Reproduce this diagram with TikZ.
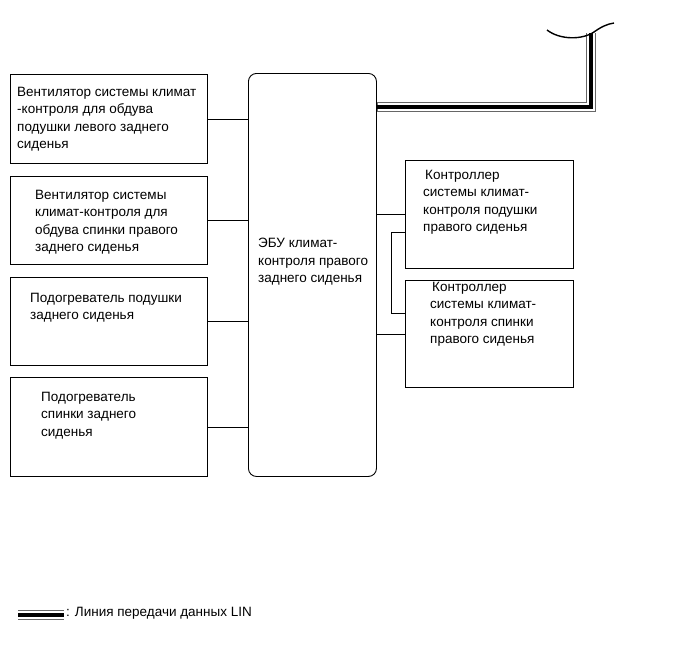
\documentclass[tikz,border=0pt]{standalone}
\usepackage{fontspec}
\setmainfont{Liberation Sans}
\begin{document}
\begin{tikzpicture}[x=1pt,y=-1pt,
  box/.style={draw, line width=0.9pt, inner sep=0pt, anchor=north west},
  txt/.style={anchor=north west, inner sep=0pt, align=left, font=\fontsize{13.5}{17.5}\selectfont},
  wire/.style={line width=0.9pt},
  lingray/.style={draw=black!60, line width=9.5pt},
  linwhite/.style={draw=white, line width=7.5pt},
  linblack/.style={draw=black, line width=3.5pt}
]
\useasboundingbox (0,0) rectangle (689,659);
% left boxes
\node[box, minimum width=197, minimum height=89] (b1) at (10,74) {};
\node[box, minimum width=197, minimum height=88] (b2) at (10,176) {};
\node[box, minimum width=197, minimum height=88] (b3) at (10,277) {};
\node[box, minimum width=197, minimum height=99] (b4) at (10,377) {};
% ECU
\node[box, rounded corners=8pt, minimum width=128, minimum height=403] (ecu) at (248,73) {};
% right boxes
\node[box, minimum width=168, minimum height=108] (r1) at (405,160) {};
\node[box, minimum width=168, minimum height=107] (r2) at (405,280) {};
% texts
\node[txt] (t1) at (17,87) {Вентилятор системы климат\\-контроля для обдува\\подушки левого заднего\\сиденья};
\node[txt] (t2) at (35,190) {Вентилятор системы\\климат-контроля для\\обдува спинки правого\\заднего сиденья};
\node[txt] (t3) at (30,293) {Подогреватель подушки\\заднего сиденья};
\node[txt] (t4) at (41,392) {Подогреватель\\спинки заднего\\сиденья};
\node[txt] (te) at (258,238) {ЭБУ климат-\\контроля правого\\заднего сиденья};
\node[txt] (tr1) at (423,170) {\hspace{2pt}Контроллер\\системы климат-\\контроля подушки\\правого сиденья};
\node[txt] (tr2) at (430,282) {\hspace{2pt}Контроллер\\системы климат-\\контроля спинки\\правого сиденья};
% connectors
\draw[wire] (b1.east) -- (b1.east -| ecu.west);
\draw[wire] (b2.east) -- (b2.east -| ecu.west);
\draw[wire] (b3.east) -- (b3.east -| ecu.west);
\draw[wire] (b4.east) -- (b4.east -| ecu.west);
\draw[wire] (r1.west -| ecu.east) -- (r1.west);
\draw[wire] (r2.west -| ecu.east) -- (r2.west);
\coordinate (k1) at (391,232);
\coordinate (k2) at (391,313);
\draw[wire] (k1 -| r1.west) -- (k1) -- (k2) -- (k2 -| r2.west);
% LIN bus
\coordinate (lstart) at (376,107);
\coordinate (lcorner) at (591,107);
\coordinate (lend) at (591,33);
\path[lingray] (lstart -| ecu.east) -- (lcorner) -- (lend);
\path[linwhite] ([xshift=1pt]lstart -| ecu.east) -- (lcorner) -- (lend);
\path[linblack] (lstart -| ecu.east) -- (lcorner) -- (lend);
\coordinate (w1) at (547,30);
\coordinate (w2) at (614,23);
\draw[line width=1.4pt] (w1) .. controls (560,40) and (582,40) .. (594,32) .. controls (601,27) and (607,24) .. (w2);
% legend
\coordinate (g1) at (18,615);
\coordinate (g2) at (64,615);
\path[lingray] (g1) -- (g2);
\path[linwhite] (g1) -- (g2);
\path[linblack] (g1) -- (g2);
\node[anchor=west, inner sep=0pt, font=\fontsize{13.5}{16}\selectfont] (lg) at (66,613) {: Линия передачи данных LIN};
\end{tikzpicture}
\end{document}
